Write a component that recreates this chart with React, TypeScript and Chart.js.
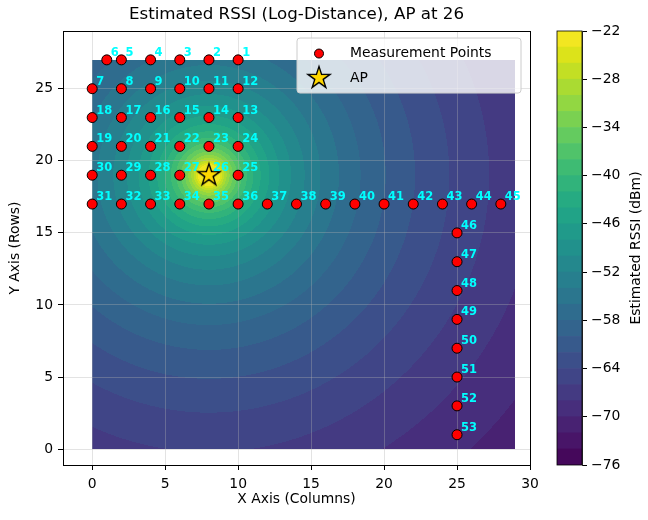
import React, { useEffect, useRef } from 'react';
import { Chart, registerables } from 'chart.js';

Chart.register(...registerables);

// ---------------- data ----------------
const TITLE = 'Estimated RSSI (Log-Distance), AP at 26';
const X_LABEL = 'X Axis (Columns)';
const Y_LABEL = 'Y Axis (Rows)';
const CB_LABEL = 'Estimated RSSI (dBm)';

const POINT_IDS = [
  '1', '2', '3', '4', '5', '6', '7', '8', '9', '10', '11', '12', '13', '14', '15', '16', '17', '18',
  '19', '20', '21', '22', '23', '24', '25', '26', '27', '28', '29', '30', '31', '32', '33', '34', '35',
  '36', '37', '38', '39', '40', '41', '42', '43', '44', '45', '46', '47', '48', '49', '50', '51', '52', '53',
];
const POINT_X = [
  10, 8, 6, 4, 2, 1,
  0, 2, 4, 6, 8, 10,
  10, 8, 6, 4, 2, 0,
  0, 2, 4, 6, 8, 10,
  10, 8, 6, 4, 2, 0,
  0, 2, 4, 6, 8, 10, 12, 14, 16, 18, 20, 22, 24, 26, 28,
  25, 25, 25, 25, 25, 25, 25, 25,
];
const POINT_Y = [
  27, 27, 27, 27, 27, 27,
  25, 25, 25, 25, 25, 25,
  23, 23, 23, 23, 23, 23,
  21, 21, 21, 21, 21, 21,
  19, 19, 19, 19, 19, 19,
  17, 17, 17, 17, 17, 17, 17, 17, 17, 17, 17, 17, 17, 17, 17,
  15, 13, 11, 9, 7, 5, 3, 1,
];

const AP_X = 8;
const AP_Y = 19;

// extent of the estimated field (grid units)
const FIELD_X = [0, 29];
const FIELD_Y = [0, 27];
// log-distance model parameters read from the colour field
const P0_DBM = -27.5;
const PATH_LOSS_N = 3.0;
const D_MIN = 0.7;

const RSSI_LEVELS = [
  -76, -74, -72, -70, -68, -66, -64, -62, -60, -58, -56, -54, -52, -50,
  -48, -46, -44, -42, -40, -38, -36, -34, -32, -30, -28, -26, -24, -22,
];
const CB_TICKS = [-76, -70, -64, -58, -52, -46, -40, -34, -28, -22];
const X_TICKS = [0, 5, 10, 15, 20, 25, 30];
const Y_TICKS = [0, 5, 10, 15, 20, 25];

// ---------------- style helpers ----------------
const FONT = "'DejaVu Sans', sans-serif";
const VIRIDIS_STOPS = [
  '#440154', '#48186a', '#472d7b', '#424086', '#3b528b', '#33638d', '#2c728e', '#26828e',
  '#21918c', '#1fa088', '#28ae80', '#3fbc73', '#5ec962', '#84d44b', '#addc30', '#d8e219', '#fde725',
];
const STOP_RGB = VIRIDIS_STOPS.map((h) => [
  parseInt(h.slice(1, 3), 16),
  parseInt(h.slice(3, 5), 16),
  parseInt(h.slice(5, 7), 16),
]);

function viridis(t: number): number[] {
  const tt = Math.min(1, Math.max(0, t)) * (STOP_RGB.length - 1);
  const i = Math.min(STOP_RGB.length - 2, Math.floor(tt));
  const f = tt - i;
  const a = STOP_RGB[i];
  const b = STOP_RGB[i + 1];
  return [a[0] + (b[0] - a[0]) * f, a[1] + (b[1] - a[1]) * f, a[2] + (b[2] - a[2]) * f];
}

const N_BANDS = RSSI_LEVELS.length - 1;
const BAND_RGB = RSSI_LEVELS.slice(0, -1).map((_, k) => viridis((k + 0.5) / N_BANDS));
const rgbStr = (c: number[]) => `rgb(${Math.round(c[0])},${Math.round(c[1])},${Math.round(c[2])})`;

function rssiAt(x: number, y: number): number {
  const d = Math.max(Math.hypot(x - AP_X, y - AP_Y), D_MIN);
  return P0_DBM - 10 * PATH_LOSS_N * Math.log10(d);
}

function bandIndex(v: number): number {
  let k = 0;
  while (k < N_BANDS - 1 && v >= RSSI_LEVELS[k + 1]) k++;
  return k;
}

function makeStar(R: number): HTMLCanvasElement {
  const s = Math.ceil(R * 2 + 4);
  const c = document.createElement('canvas');
  c.width = s;
  c.height = s;
  const g = c.getContext('2d')!;
  const cx = s / 2;
  const cy = s / 2;
  g.beginPath();
  for (let i = 0; i < 10; i++) {
    const ang = -Math.PI / 2 + (i * Math.PI) / 5;
    const r = i % 2 === 0 ? R : R * 0.382;
    const px = cx + r * Math.cos(ang);
    const py = cy + r * Math.sin(ang);
    if (i === 0) g.moveTo(px, py);
    else g.lineTo(px, py);
  }
  g.closePath();
  g.fillStyle = '#ffd700';
  g.fill();
  g.lineWidth = 1.4;
  g.strokeStyle = '#000';
  g.lineJoin = 'miter';
  g.stroke();
  return c;
}

export default function App() {
  const mainRef = useRef<HTMLCanvasElement>(null);
  const cbRef = useRef<HTMLCanvasElement>(null);

  useEffect(() => {
    const star = makeStar(11.6);

    const heatmapPlugin = {
      id: 'heatmap',
      beforeDraw(chart: any) {
        const { ctx } = chart;
        const xs = chart.scales.x;
        const ys = chart.scales.y;
        const left = Math.round(xs.getPixelForValue(FIELD_X[0]));
        const right = Math.round(xs.getPixelForValue(FIELD_X[1]));
        const top = Math.round(ys.getPixelForValue(FIELD_Y[1]));
        const bottom = Math.round(ys.getPixelForValue(FIELD_Y[0]));
        const w = right - left;
        const h = bottom - top;
        if (w <= 0 || h <= 0) return;
        const off = document.createElement('canvas');
        off.width = w;
        off.height = h;
        const octx = off.getContext('2d')!;
        const img = octx.createImageData(w, h);
        for (let j = 0; j < h; j++) {
          const vy = ys.getValueForPixel(top + j + 0.5);
          for (let i = 0; i < w; i++) {
            const vx = xs.getValueForPixel(left + i + 0.5);
            const c = BAND_RGB[bandIndex(rssiAt(vx, vy))];
            const p = (j * w + i) * 4;
            img.data[p] = c[0];
            img.data[p + 1] = c[1];
            img.data[p + 2] = c[2];
            img.data[p + 3] = 255;
          }
        }
        octx.putImageData(img, 0, 0);
        ctx.drawImage(off, left, top);
      },
    };

    const labelsPlugin = {
      id: 'pointLabels',
      afterDatasetsDraw(chart: any) {
        const { ctx } = chart;
        const meta = chart.getDatasetMeta(0);
        ctx.save();
        ctx.font = `bold 11.5px ${FONT}`;
        ctx.fillStyle = '#00ffff';
        ctx.textAlign = 'left';
        ctx.textBaseline = 'alphabetic';
        meta.data.forEach((el: any, i: number) => {
          ctx.fillText(POINT_IDS[i], el.x + 4, el.y - 4);
        });
        ctx.restore();
      },
      afterDraw(chart: any) {
        const { ctx, chartArea: a } = chart;
        ctx.save();
        // frame
        ctx.strokeStyle = '#000';
        ctx.lineWidth = 1;
        ctx.strokeRect(Math.round(a.left) + 0.5, Math.round(a.top) + 0.5, Math.round(a.right - a.left), Math.round(a.bottom - a.top));
        // legend
        const lx = a.right - 233;
        const ly = a.top + 7;
        const lw = 224;
        const lh = 55;
        ctx.beginPath();
        ctx.roundRect(lx, ly, lw, lh, 3);
        ctx.fillStyle = 'rgba(255,255,255,0.8)';
        ctx.fill();
        ctx.strokeStyle = '#cccccc';
        ctx.lineWidth = 1;
        ctx.stroke();
        // marker 1
        ctx.beginPath();
        ctx.arc(lx + 22, ly + 15.5, 4.5, 0, Math.PI * 2);
        ctx.fillStyle = 'red';
        ctx.fill();
        ctx.strokeStyle = '#000';
        ctx.lineWidth = 1;
        ctx.stroke();
        // star
        ctx.drawImage(star, lx + 22 - star.width / 2, ly + 40 - star.height / 2);
        ctx.fillStyle = '#000';
        ctx.font = `13.9px ${FONT}`;
        ctx.textAlign = 'left';
        ctx.textBaseline = 'middle';
        ctx.fillText('Measurement Points', lx + 53, ly + 15.5);
        ctx.fillText('AP', lx + 53, ly + 40);
        ctx.restore();
      },
    };

    const tickFont = { family: FONT, size: 13.9 };
    const gridOpts = {
      color: 'rgba(176,176,176,0.45)',
      lineWidth: 0.8,
      tickLength: 5,
      tickColor: '#000',
      tickWidth: 1,
    };

    const main = new Chart(mainRef.current!, {
      type: 'scatter',
      data: {
        datasets: [
          {
            label: 'Measurement Points',
            data: POINT_X.map((x, i) => ({ x, y: POINT_Y[i] })),
            pointRadius: 5,
            pointBackgroundColor: 'red',
            pointBorderColor: '#000',
            pointBorderWidth: 1,
            order: 2,
          },
          {
            label: 'AP',
            data: [{ x: AP_X, y: AP_Y }],
            pointStyle: star,
            pointRadius: 11,
            order: 1,
          },
        ],
      },
      options: {
        animation: false,
        responsive: false,
        events: [],
        layout: { padding: { left: 0, right: 118, top: 0, bottom: 0 } },
        plugins: {
          legend: { display: false },
          tooltip: { enabled: false },
          title: {
            display: true,
            text: TITLE,
            fullSize: false,
            color: '#000',
            font: { family: FONT, size: 16.7, weight: 'normal' },
            padding: { top: 5, bottom: 6 },
          },
        },
        scales: {
          x: {
            type: 'linear',
            min: -2,
            max: 30,
            afterBuildTicks: (s: any) => {
              s.ticks = X_TICKS.map((v) => ({ value: v }));
            },
            afterFit: (s: any) => {
              s.height = 55;
            },
            ticks: { font: tickFont, color: '#000', padding: 6, maxRotation: 0, autoSkip: false },
            grid: gridOpts,
            border: { color: '#000', width: 1 },
            title: {
              display: true,
              text: X_LABEL,
              color: '#000',
              font: tickFont,
              padding: { top: 0, bottom: 12 },
            },
          },
          y: {
            type: 'linear',
            min: -1.1,
            max: 29,
            afterBuildTicks: (s: any) => {
              s.ticks = Y_TICKS.map((v) => ({ value: v }));
            },
            afterFit: (s: any) => {
              s.width = 63;
            },
            ticks: { font: tickFont, color: '#000', padding: 5, autoSkip: false },
            grid: gridOpts,
            border: { color: '#000', width: 1 },
            title: {
              display: true,
              text: Y_LABEL,
              color: '#000',
              font: tickFont,
              padding: { top: 7, bottom: 0 },
            },
          },
        },
      } as any,
      plugins: [heatmapPlugin, labelsPlugin],
    });

    const cbPlugin = {
      id: 'cbFrame',
      afterDraw(chart: any) {
        const { ctx, chartArea: a } = chart;
        ctx.save();
        ctx.strokeStyle = '#000';
        ctx.lineWidth = 0.8;
        ctx.strokeRect(a.left, a.top, a.right - a.left, a.bottom - a.top);
        ctx.translate(636, (a.top + a.bottom) / 2);
        ctx.rotate(-Math.PI / 2);
        ctx.font = `13.9px ${FONT}`;
        ctx.fillStyle = '#000';
        ctx.textAlign = 'center';
        ctx.textBaseline = 'middle';
        ctx.fillText(CB_LABEL, 0, 0);
        ctx.restore();
      },
    };

    const cb = new Chart(cbRef.current!, {
      type: 'bar',
      data: {
        labels: [''],
        datasets: RSSI_LEVELS.slice(0, -1).map((lo, k) => ({
          label: String(lo),
          data: [[lo, RSSI_LEVELS[k + 1]]],
          backgroundColor: rgbStr(BAND_RGB[k]),
          borderWidth: 0,
          barPercentage: 1,
          categoryPercentage: 1,
          grouped: false,
        })),
      },
      options: {
        animation: false,
        responsive: false,
        events: [],
        layout: { padding: { left: 557, right: 26, top: 31, bottom: 55 } },
        plugins: { legend: { display: false }, tooltip: { enabled: false }, title: { display: false } },
        scales: {
          x: { type: 'category', display: false },
          y: {
            position: 'right',
            min: RSSI_LEVELS[0],
            max: RSSI_LEVELS[RSSI_LEVELS.length - 1],
            afterBuildTicks: (s: any) => {
              s.ticks = CB_TICKS.map((v) => ({ value: v }));
            },
            afterFit: (s: any) => {
              s.width = 40;
            },
            ticks: {
              font: tickFont,
              color: '#000',
              padding: 4,
              callback: (v: any) => (Number(v) < 0 ? '\u2212' + Math.abs(Number(v)) : String(v)),
            },
            grid: { drawOnChartArea: false, tickLength: 5, tickColor: '#000', color: '#000' },
            border: { display: true, color: '#000', width: 0.8 },
          },
        },
      } as any,
      plugins: [cbPlugin],
    });

    return () => {
      main.destroy();
      cb.destroy();
    };
  }, []);

  return (
    <div style={{ position: 'absolute', left: 0, top: 0, width: 648, height: 520, background: '#fff' }}>
      <canvas ref={mainRef} width={648} height={520} style={{ position: 'absolute', left: 0, top: 0, width: 648, height: 520 }} />
      <canvas ref={cbRef} width={648} height={520} style={{ position: 'absolute', left: 0, top: 0, width: 648, height: 520 }} />
    </div>
  );
}
